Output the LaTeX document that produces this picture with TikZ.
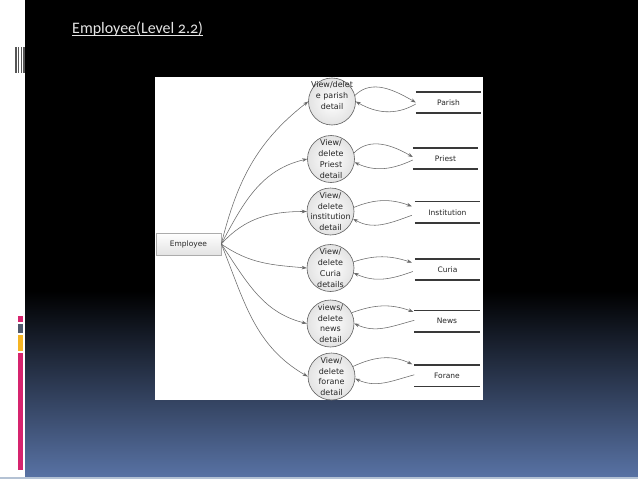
\documentclass[tikz,border=0pt]{standalone}
\usepackage{fontspec}
\setmainfont{DejaVu Sans}
\newfontfamily\titlefont[Numbers=OldStyle]{Carlito}
\usetikzlibrary{arrows.meta,calc}
\definecolor{bgblue}{RGB}{88,114,164}
\definecolor{stripgray}{RGB}{85,85,85}
\definecolor{accmag}{RGB}{214,36,110}
\definecolor{accgray}{RGB}{78,88,108}
\definecolor{accyel}{RGB}{245,180,35}
\definecolor{botline}{RGB}{180,194,212}
\definecolor{flowgray}{RGB}{105,105,105}
\tikzset{
  proc/.style={circle, draw=gray!75!black, line width=0.6pt, inner color=white, outer color=gray!22,
    minimum size=47pt, inner sep=0pt, align=center, text=black!85,
    font=\fontsize{8}{10.7}\selectfont},
  store/.style={rectangle, minimum width=65pt, minimum height=21pt, inner sep=0pt,
    text=black!85, font=\fontsize{7.5}{9}\selectfont},
  storeline/.style={draw=gray!45!black, line width=1.6pt},
  entity/.style={rectangle, draw=gray!65, line width=0.6pt, top color=white, bottom color=gray!22,
    minimum width=65pt, minimum height=22pt, inner sep=0pt, text=black!85,
    font=\fontsize{7.5}{9}\selectfont},
  flow/.style={draw=flowgray, line width=0.55pt, -{Stealth[length=5pt,width=3.6pt]}}
}
\begin{document}
\begin{tikzpicture}[x=1pt,y=-1pt]
\useasboundingbox (0,0) rectangle (638,479);
% background
\fill[white] (0,0) rectangle (638,479);
\fill[black] (25,0) rectangle (638,292);
\shade[top color=black, bottom color=bgblue] (25,291) rectangle (638,477);
\fill[botline] (0,477) rectangle (638,479);
% left decorations
\foreach \xx in {15.4,18.0,20.6,23.2} {\fill[stripgray] (\xx,47) rectangle ++(1.4,26);}
\fill[accmag] (18,316) rectangle (23,322);
\fill[accgray] (18,323.5) rectangle (23,333);
\fill[accyel] (18,335) rectangle (23,351);
\fill[accmag] (18,352.5) rectangle (23,470);
% title
\node[anchor=base west, inner sep=0pt, text=white!90!black, font=\titlefont\fontsize{16}{18}\selectfont] (title) at (72,33.3) {Employee(Level 2.2)};
\draw[white!90!black, line width=0.7pt] ([yshift=-1.8pt]title.base west) -- ([yshift=-1.8pt]title.base east);
% panel
\fill[white] (155,77) rectangle (483,400);
% entity
\node[entity] (emp) at (188.5,244) {Employee};
% processes
\node[proc] (c1) at (332,101.5) {\makebox[0pt]{\raisebox{3pt}[0pt][0pt]{\begin{tabular}{@{}c@{}}View/delet\\e parish\\detail\end{tabular}}}};
\node[proc] (c2) at (331,159) {View/\\delete\\Priest\\detail};
\node[proc] (c3) at (330.5,211.5) {View/\\delete\\\makebox[0pt]{institution}\\detail};
\node[proc] (c4) at (330.5,268) {View/\\delete\\Curia\\details};
\node[proc] (c5) at (330.5,323.5) {views/\\delete\\news\\detail};
\node[proc] (c6) at (331.5,376.5) {View/\\delete\\forane\\detail};
% stores
\node[store] (s1) at (448.5,102.5) {Parish};
\node[store] (s2) at (445.5,158.5) {Priest};
\node[store] (s3) at (447.5,212.3) {Institution};
\node[store] (s4) at (447.5,269.5) {Curia};
\node[store] (s5) at (447,321.3) {News};
\node[store] (s6) at (447,375.8) {Forane};
\foreach \s in {s1,s2,s3,s4,s5,s6} {
  \draw[storeline] (\s.north west) -- (\s.north east);
  \draw[storeline] (\s.south west) -- (\s.south east);
}
% employee to processes
\draw[flow] (emp.east) to[out=76,in=218] (c1.west);
\draw[flow] (emp.east) to[out=62,in=193] (c2.west);
\draw[flow] (emp.east) to[out=48,in=180] (c3.west);
\draw[flow] (emp.east) to[out=-35,in=175] (c4.west);
\draw[flow] (emp.east) to[out=-56,in=166] (c5.west);
\draw[flow] (emp.east) to[out=-68,in=150] (c6.west);
% process <-> store
\draw[flow] (c1.15) to[out=45,in=150] (s1.west);
\draw[flow] ([yshift=-1.5pt]s1.west) to[out=210,in=-30] (c1.east);
\draw[flow] (c2.15) to[out=45,in=150] ([yshift=1.5pt]s2.west);
\draw[flow] ([yshift=-1.5pt]s2.west) to[out=205,in=-25] (c2.-8);
\draw[flow] (c3.10) to[out=22,in=160] ([xshift=-3pt,yshift=6pt]s3.west);
\draw[flow] ([xshift=-3pt,yshift=-3pt]s3.west) to[out=200,in=-30] (c3.-18);
\draw[flow] (c4.15) to[out=18,in=162] ([xshift=-3pt,yshift=7pt]s4.west);
\draw[flow] ([xshift=-2pt,yshift=-2pt]s4.west) to[out=200,in=-25] (c4.-12);
\draw[flow] (c5.27) to[out=20,in=160] ([xshift=-1pt,yshift=9.5pt]s5.west);
\draw[flow] ([yshift=1pt]s5.west) to[out=195,in=-25] (c5.east);
\draw[flow] (c6.25) to[out=25,in=155] ([xshift=-2pt,yshift=11.5pt]s6.west);
\draw[flow] ([yshift=1pt]s6.west) to[out=195,in=-25] (c6.-5);
\end{tikzpicture}
\end{document}
